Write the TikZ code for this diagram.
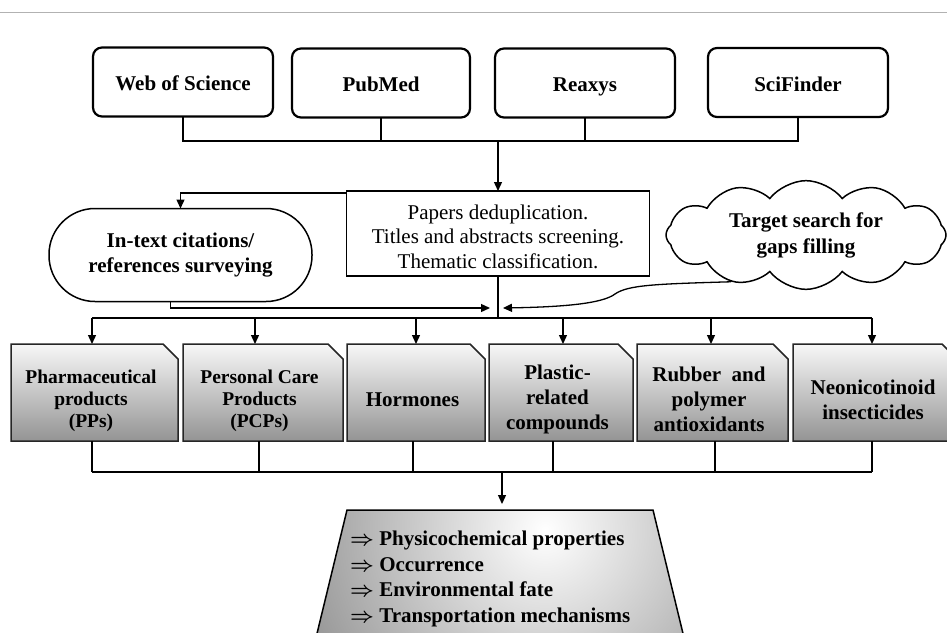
\documentclass[tikz,border=0pt]{standalone}
\usepackage{fontspec}
\setmainfont{Liberation Serif}
\usetikzlibrary{arrows.meta, shapes.symbols}
\begin{document}
\begin{tikzpicture}[x=1pt,y=-1pt,
  conn/.style={draw=black, line width=1.3pt},
  arr/.style={conn, -{Triangle[length=9pt,width=8pt]}},
  dbbox/.style={draw, line width=2.2pt, rounded corners=9pt, minimum width=180pt, minimum height=69pt, inner sep=0pt, outer sep=0pt, text height=20pt, text depth=3pt, font=\fontsize{21}{25}\selectfont\bfseries},
  catbox/.style={minimum height=97pt, inner sep=0pt, outer sep=0pt},
  catshade/.style={draw=black!85, line width=1.5pt, top color=black!3, bottom color=black!42},
  cattext/.style={align=center, inner sep=0pt, font=\fontsize{21}{25}\selectfont\bfseries},
  smalltext/.style={font=\fontsize{19.5}{22}\selectfont\bfseries}
]
\useasboundingbox (0,0) rectangle (947,632);
\clip (0,0) rectangle (947,632);
\draw[black!30, line width=1.5pt] (0,12.5) -- (947,12.5);

% databases
\node[dbbox] (wos) at (183,82) {Web of Science};
\node[dbbox, minimum width=178pt] (pub) at (381,83) {PubMed};
\node[dbbox] (rea) at (585,83) {Reaxys};
\node[dbbox] (sci) at (798,82.5) {SciFinder};
\coordinate (tbar) at (0,141);
\draw[conn] (wos.south) -- (wos.south |- tbar) -- (sci.south |- tbar) -- (sci.south);
\draw[conn] (pub.south) -- (pub.south |- tbar);
\draw[conn] (rea.south) -- (rea.south |- tbar);

% screening box
\node[draw, line width=1.5pt, minimum width=303pt, minimum height=85pt, align=center, inner sep=0pt, outer sep=0pt, font=\fontsize{21}{24.5}\selectfont] (screen) at (498,233.5) {\rule{0pt}{21pt}Papers deduplication.\\Titles and abstracts screening.\\Thematic classification.};
\draw[arr] (screen.north |- tbar) -- (screen.north);

% in-text citations
\node[draw, line width=1.5pt, rounded corners=46pt, minimum width=263pt, minimum height=93pt, align=center, inner sep=0pt, outer sep=0pt, font=\fontsize{21}{25}\selectfont\bfseries] (intext) at (180.5,255) {In-text citations/\\references surveying};
\draw[arr] ([yshift=-2pt]screen.north west) -| (intext.north);

% cloud
\node[cloud, draw, line width=1.5pt, cloud puffs=12, cloud puff arc=105, aspect=2.6, minimum width=280pt, minimum height=106pt, inner sep=0pt, align=center, font=\fontsize{21}{26}\selectfont\bfseries] (cloud) at (806,235) {Target search for\\gaps filling};

\coordinate (ltip) at (490,308);
\coordinate (rtip) at (503,308);
\draw[arr] ([xshift=-10pt]intext.south) |- (ltip);
\draw[arr] (cloud.212) .. controls (655,284) and (628,285) .. (615,294) .. controls (602,304) and (560,307) .. (rtip);

% distribution
\coordinate (d1) at (92,318);
\coordinate (d2) at (255,318);
\coordinate (d3) at (416,318);
\coordinate (d4) at (563,318);
\coordinate (d5) at (711,318);
\coordinate (d6) at (872,318);
\draw[conn] (screen.south) -- (screen.south |- d1);
\draw[conn] (d1) -- (d6);

% category boxes
\node[catbox, minimum width=167pt] (pp) at (94.5,392.5) {};
\node[catbox, minimum width=160pt] (pcp) at (263,392.5) {};
\node[catbox, minimum width=138pt] (hor) at (416,392.5) {};
\node[catbox, minimum width=144pt] (pla) at (561,392.5) {};
\node[catbox, minimum width=151pt] (rub) at (712.5,392.5) {};
\node[catbox, minimum width=164pt] (neo) at (875,392.5) {};
\foreach \b in {pp,pcp,hor,pla,rub,neo}{
  \shade[catshade] (\b.north west) -- ([xshift=-15pt]\b.north east) -- ([yshift=-15pt]\b.north east) -- (\b.south east) -- (\b.south west) -- cycle;
}
\node[cattext, smalltext] (ppt) at ([xshift=-3.5pt,yshift=-8pt]pp.center) {Pharmaceutical\\products\\(PPs)};
\node[cattext, smalltext] (pcpt) at ([xshift=-3.5pt,yshift=-8pt]pcp.center) {Personal Care\\Products\\(PCPs)};
\node[cattext] (hort) at ([xshift=-3.5pt,yshift=-7pt]hor.center) {Hormones};
\node[cattext] (plat) at ([xshift=-3.5pt,yshift=-7pt]pla.center) {Plastic-\\related\\compounds};
\node[cattext] (rubt) at ([xshift=-3.5pt,yshift=-7pt]rub.center) {Rubber\ \ and\\polymer\\antioxidants};
\node[cattext] (neot) at ([xshift=-2pt,yshift=-7pt]neo.center) {Neonicotinoid\\insecticides};

\draw[arr] (d1) -- (d1 |- pp.north);
\draw[arr] (d2) -- (d2 |- pcp.north);
\draw[arr] (d3) -- (d3 |- hor.north);
\draw[arr] (d4) -- (d4 |- pla.north);
\draw[arr] (d5) -- (d5 |- rub.north);
\draw[arr] (d6) -- (d6 |- neo.north);

% collection
\coordinate (b1) at (92,472);
\coordinate (b2) at (259,472);
\coordinate (b3) at (413,472);
\coordinate (b4) at (553,472);
\coordinate (b5) at (715,472);
\coordinate (b6) at (872,472);
\coordinate (bj) at (502,472);
\coordinate (ptop) at (502,510);
\draw[conn] (b1 |- pp.south) -- (b1);
\draw[conn] (b2 |- pcp.south) -- (b2);
\draw[conn] (b3 |- hor.south) -- (b3);
\draw[conn] (b4 |- pla.south) -- (b4);
\draw[conn] (b5 |- rub.south) -- (b5);
\draw[conn] (b6 |- neo.south) -- (b6);
\draw[conn] (b1) -- (b6);
\draw[arr, shorten >=6pt] (bj) -- (ptop);

% properties trapezoid
\begin{scope}
  \clip (347,510) -- (653,510) -- (687,650) -- (313,650) -- cycle;
  \shade[inner color=white, outer color=black!48] (545,530) circle (300pt);
\end{scope}
\draw[line width=1.5pt, line join=miter] (313,650) -- (347,510) -- (653,510) -- (687,650);
\node[anchor=west, align=left, inner sep=0pt, font=\fontsize{21}{25.7}\selectfont\bfseries\boldmath] (props) at (350,579) {$\Rightarrow$ Physicochemical properties\\$\Rightarrow$ Occurrence\\$\Rightarrow$ Environmental fate\\$\Rightarrow$ Transportation mechanisms};
\end{tikzpicture}
\end{document}
